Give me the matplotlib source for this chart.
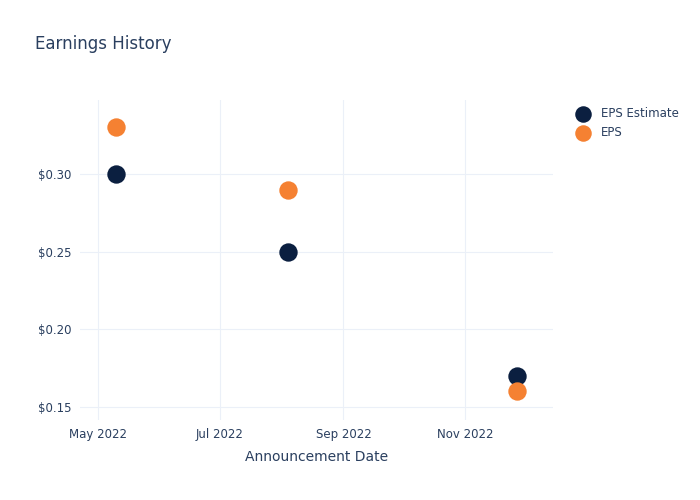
import numpy as np
import matplotlib
matplotlib.use("Agg")
import matplotlib.pyplot as plt
import matplotlib.dates as mdates
from matplotlib.ticker import FuncFormatter

# data
dates = np.array(["2022-05-10", "2022-08-04", "2022-11-27"], dtype="datetime64[D]")
eps_estimate = [0.30, 0.25, 0.17]
eps_actual = [0.33, 0.29, 0.16]

navy = "#0b1f40"
orange = "#f58132"
text_col = "#2a3f5f"
grid_col = "#ebf0f8"

plt.rcParams["font.family"] = ["DejaVu Sans"]

fig = plt.figure(figsize=(7, 5), dpi=100)
ax = fig.add_axes([80 / 700, 80 / 500, 473 / 700, 320 / 500])

ax.scatter(dates, eps_estimate, s=175, color=navy, label="EPS Estimate", zorder=3, linewidths=0)
ax.scatter(dates, eps_actual, s=175, color=orange, label="EPS", zorder=3, linewidths=0)

ax.set_xlim(np.datetime64("2022-04-22"), np.datetime64("2022-12-15"))
ax.set_ylim(0.1416, 0.3477)

ax.xaxis.set_major_locator(mdates.MonthLocator(bymonth=[5, 7, 9, 11]))
ax.xaxis.set_major_formatter(mdates.DateFormatter("%b %Y"))
ax.set_yticks([0.15, 0.20, 0.25, 0.30])
ax.yaxis.set_major_formatter(FuncFormatter(lambda v, p: f"${v:.2f}"))

ax.grid(True, color=grid_col, linewidth=0.8)
ax.set_axisbelow(True)
for s in ax.spines.values():
    s.set_visible(False)
ax.tick_params(length=0, labelsize=8.5, colors=text_col, pad=6)

ax.set_xlabel("Announcement Date", fontsize=10, color=text_col, labelpad=6)
fig.text(35 / 700, 1 - 44 / 500, "Earnings History", fontsize=12, color=text_col, va="center")

leg = fig.legend(loc="upper left", bbox_to_anchor=(571 / 700, 1 - 107 / 500), frameon=False,
                 fontsize=8.5, handletextpad=0.5, labelspacing=0.55, borderaxespad=0,
                 borderpad=0, markerscale=0.9)
for t in leg.get_texts():
    t.set_color(text_col)

fig.savefig("out.png", dpi=100)
